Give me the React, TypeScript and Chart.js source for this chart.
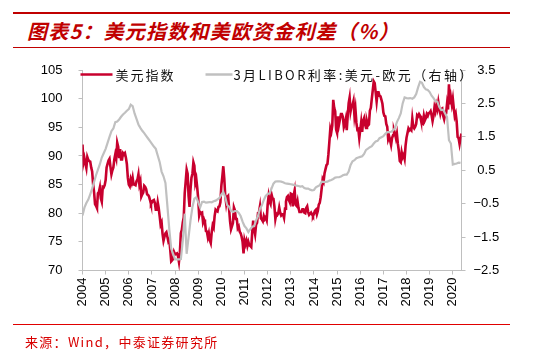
import React, { useEffect, useRef } from "react";
import { Chart, registerables } from "chart.js";

Chart.register(...registerables);

const RED = "#C8002E";
const GRAY = "#C0C0C0";
const AXIS = "#BFBFBF";

const titleText = "图表5：美元指数和美欧资金利差（%）";
const sourceText = "来源：Wind，中泰证券研究所";
const seriesNames = ["美元指数", "3月LIBOR利率:美元-欧元（右轴）"];

const yearLabels = ["2004", "2005", "2006", "2007", "2008", "2009", "2010", "2011", "2012", "2013", "2014", "2015", "2016", "2017", "2018", "2019", "2020"];
const leftTicks = [70, 75, 80, 85, 90, 95, 100, 105];
const rightTicks = [-2.5, -1.5, -0.5, 0.5, 1.5, 2.5, 3.5];

// 美元指数: two readings per month (mid-month, month-end), May 2004 – Sep 2020
const dxy2004 = [92.0, 88.8, 89.6, 88.7, 87.9, 89.8, 89.3, 89.1, 89.0, 88.0, 87.3, 85.1, 83.7, 81.6, 81.3, 80.9];
const dxy2005 = [83.5, 83.7, 84.5, 82.6, 82.0, 84.6, 84.5, 84.9, 85.8, 88.0, 88.6, 89.2, 89.5, 88.1, 86.8, 87.5, 88.0, 89.4, 90.3, 89.6, 92.3, 91.6, 89.6, 91.2];
const dxy2006 = [89.4, 89.4, 90.5, 90.3, 90.5, 89.7, 88.6, 86.2, 85.0, 84.7, 85.9, 85.3, 86.2, 85.0, 85.0, 84.9, 85.6, 85.9, 86.8, 85.0, 85.6, 82.9, 83.3, 83.6];
const dxy2007 = [84.8, 84.6, 84.2, 83.3, 83.2, 82.9, 82.3, 81.6, 81.9, 82.2, 82.3, 81.8, 80.6, 80.6, 81.9, 80.9, 79.5, 78.0, 78.4, 76.4, 75.2, 75.9, 76.5, 76.7];
const dxy2008 = [75.9, 75.1, 75.4, 73.6, 71.6, 71.8, 72.0, 73.2, 72.8, 72.9, 73.0, 72.5, 71.5, 73.2, 76.5, 77.1, 78.4, 79.3, 83.5, 85.5, 87.6, 86.9, 83.0, 81.1];
const dxy2009 = [84.2, 86.2, 86.9, 88.9, 88.3, 85.3, 86.0, 84.4, 82.5, 79.6, 80.2, 80.0, 80.1, 78.4, 78.9, 78.4, 76.9, 76.8, 75.8, 76.5, 75.3, 74.8, 76.7, 77.9];
const dxy2010 = [77.5, 79.5, 80.6, 80.4, 80.3, 81.1, 81.2, 81.9, 84.8, 86.4, 88.2, 86.1, 83.1, 81.7, 82.8, 83.0, 80.8, 78.6, 77.2, 77.2, 78.3, 81.0, 80.5, 79.0];
const dxy2011 = [79.0, 77.4, 77.7, 76.8, 76.5, 75.9, 75.0, 73.0, 75.3, 74.6, 75.2, 74.3, 75.0, 74.4, 74.3, 74.1, 76.7, 78.7, 77.2, 76.3, 78.0, 78.3, 80.0, 80.2];
const dxy2012 = [81.2, 79.1, 78.9, 78.6, 79.5, 79.0, 79.3, 78.8, 81.5, 83.0, 82.0, 81.6, 83.3, 82.6, 82.5, 81.2, 79.0, 79.9, 79.7, 80.0, 81.0, 80.1, 79.6, 79.8];
const dxy2013 = [79.8, 79.2, 80.8, 82.0, 82.8, 83.0, 82.3, 81.9, 83.4, 83.3, 81.2, 83.1, 84.0, 81.5, 81.3, 82.1, 80.9, 80.2, 80.2, 80.2, 80.7, 80.7, 80.1, 80.0];
const dxy2014 = [80.9, 81.2, 80.2, 79.7, 79.9, 80.1, 79.8, 79.5, 79.9, 80.4, 80.6, 79.8, 80.4, 81.5, 81.8, 82.8, 84.3, 85.9, 85.5, 87.0, 87.7, 88.4, 88.6, 90.3];
const dxy2015 = [92.5, 94.8, 94.2, 95.3, 99.8, 98.4, 97.8, 94.6, 94.0, 96.9, 95.5, 95.5, 97.3, 97.3, 96.8, 95.0, 95.5, 96.4, 94.5, 97.0, 99.2, 100.2, 97.8, 98.7];
const dxy2016 = [98.9, 99.6, 97.0, 98.2, 95.8, 94.6, 94.7, 93.1, 94.5, 95.9, 94.2, 96.1, 96.6, 95.5, 94.9, 96.0, 95.3, 95.5, 97.9, 98.4, 100.0, 101.5, 103.0, 102.7];
const dxy2017 = [101.1, 99.5, 101.1, 101.1, 100.5, 100.4, 99.8, 99.1, 97.6, 97.0, 96.9, 95.6, 95.1, 92.9, 93.4, 92.7, 91.9, 93.1, 93.6, 94.5, 93.9, 93.1, 93.9, 92.1];
const dxy2018 = [90.9, 89.1, 88.9, 90.6, 89.8, 90.2, 89.5, 91.8, 93.2, 94.0, 94.8, 94.5, 94.7, 94.5, 96.5, 95.1, 94.8, 95.1, 95.6, 97.1, 96.9, 97.3, 97.0, 96.2];
const dxy2019 = [95.7, 95.6, 97.0, 96.2, 96.6, 97.3, 97.0, 97.5, 97.5, 97.8, 97.1, 96.1, 97.0, 98.5, 97.8, 98.9, 98.2, 99.4, 98.3, 97.4, 98.2, 98.3, 97.0, 96.4];
const dxy2020 = [97.3, 97.4, 99.1, 98.1, 102.5, 99.0, 100.2, 99.0, 100.0, 98.3, 96.9, 97.4, 96.0, 93.3, 93.1, 92.1, 93.1, 93.9];

// 3M LIBOR USD - EUR spread, monthly, May 2004 – Sep 2020
const spr2004 = [-0.85, -0.62, -0.48, -0.38, -0.22, -0.05, 0.15, 0.35];
const spr2005 = [0.52, 0.68, 0.88, 1.01, 1.14, 1.32, 1.5, 1.67, 1.75, 1.94, 1.96, 2.02];
const spr2006 = [2.1, 2.17, 2.22, 2.28, 2.33, 2.46, 2.42, 2.2, 2.04, 1.87, 1.77, 1.68];
const spr2007 = [1.61, 1.53, 1.45, 1.37, 1.29, 1.21, 1.14, 0.94, 0.75, 0.46, 0.32, 0.12];
const spr2008 = [-0.56, -1.27, -1.85, -2.0, -2.17, -2.17, -2.17, -2.16, -1.6, -0.8, -2.0, -1.5];
const spr2009 = [-1.0, -0.6, -0.35, -0.31, -0.46, -0.61, -0.45, -0.44, -0.47, -0.46, -0.45, -0.46];
const spr2010 = [-0.43, -0.41, -0.37, -0.33, -0.23, -0.15, -0.3, -0.54, -0.59, -0.71, -0.75, -0.72];
const spr2011 = [-0.72, -0.78, -0.87, -1.04, -1.17, -1.24, -1.35, -1.26, -1.19, -1.17, -1.0, -0.87];
const spr2012 = [-0.65, -0.55, -0.39, -0.27, -0.21, -0.19, -0.05, 0.1, 0.16, 0.17, 0.17, 0.16];
const spr2013 = [0.14, 0.11, 0.1, 0.09, 0.08, 0.07, 0.05, 0.04, 0.03, 0.01, 0.02, -0.03];
const spr2014 = [-0.05, -0.05, -0.08, -0.1, -0.09, -0.01, 0.02, 0.05, 0.16, 0.15, 0.15, 0.16];
const spr2015 = [0.19, 0.21, 0.24, 0.28, 0.29, 0.29, 0.31, 0.35, 0.37, 0.37, 0.46, 0.66];
const spr2016 = [0.77, 0.8, 0.86, 0.88, 0.9, 0.92, 0.99, 1.11, 1.15, 1.19, 1.22, 1.3];
const spr2017 = [1.36, 1.38, 1.46, 1.49, 1.52, 1.59, 1.64, 1.64, 1.65, 1.69, 1.76, 1.94];
const spr2018 = [2.06, 2.2, 2.5, 2.68, 2.66, 2.65, 2.66, 2.64, 2.68, 2.78, 2.98, 3.15];
const spr2019 = [3.12, 2.99, 2.92, 2.9, 2.84, 2.73, 2.66, 2.57, 2.55, 2.39, 2.3, 2.31];
const spr2020 = [2.2, 2.09, 1.4, 1.3, 0.67, 0.69, 0.7, 0.73, 0.72];

const dxy = [...dxy2004, ...dxy2005, ...dxy2006, ...dxy2007, ...dxy2008, ...dxy2009, ...dxy2010, ...dxy2011, ...dxy2012, ...dxy2013, ...dxy2014, ...dxy2015, ...dxy2016, ...dxy2017, ...dxy2018, ...dxy2019, ...dxy2020];
const spread = [...spr2004, ...spr2005, ...spr2006, ...spr2007, ...spr2008, ...spr2009, ...spr2010, ...spr2011, ...spr2012, ...spr2013, ...spr2014, ...spr2015, ...spr2016, ...spr2017, ...spr2018, ...spr2019, ...spr2020];

const X_MAX = (dxy.length - 1) / 24;

const legendPlugin = {
  id: "insideLegend",
  afterDraw(chart: any) {
    const ctx = chart.ctx;
    const left = chart.chartArea.left;
    const y = 74.5;
    ctx.save();
    ctx.lineWidth = 2.5;
    ctx.strokeStyle = RED;
    ctx.beginPath();
    ctx.moveTo(left - 2, y);
    ctx.lineTo(left + 30, y);
    ctx.stroke();
    ctx.strokeStyle = GRAY;
    ctx.beginPath();
    ctx.moveTo(left + 123, y);
    ctx.lineTo(left + 150, y);
    ctx.stroke();
    ctx.font = '13px "Noto Sans CJK SC", sans-serif';
    ctx.fillStyle = "#111";
    ctx.textBaseline = "middle";
    ctx.textAlign = "left";
    try { (ctx as any).letterSpacing = "2px"; } catch (e) {}
    ctx.fillText(seriesNames[0], left + 33, y + 0.5);
    try { (ctx as any).letterSpacing = "2.4px"; } catch (e) {}
    ctx.fillText(seriesNames[1], left + 151, y + 0.5);
    try { (ctx as any).letterSpacing = "0px"; } catch (e) {}
    ctx.restore();
  },
};

const tickFont = { family: '"Liberation Sans", Arial, sans-serif', size: 13 };

export default function App() {
  const ref = useRef<HTMLCanvasElement | null>(null);
  useEffect(() => {
    if (!ref.current) return;
    const chart = new Chart(ref.current, {
      type: "line",
      data: {
        datasets: [
          {
            label: seriesNames[1],
            data: spread.map((v, j) => ({ x: j / 12, y: v })),
            yAxisID: "y1",
            borderColor: GRAY,
            borderWidth: 2.2,
            pointRadius: 0,
            tension: 0,
            order: 0,
          },
          {
            label: seriesNames[0],
            data: dxy.map((v, i) => ({ x: i / 24, y: v })),
            yAxisID: "y",
            borderColor: RED,
            borderWidth: 2.6,
            pointRadius: 0,
            tension: 0,
            order: 1,
          },
        ],
      },
      options: {
        responsive: false,
        animation: false,
        layout: { padding: { top: 70, left: 0, right: 0, bottom: 0 } },
        plugins: { legend: { display: false }, tooltip: { enabled: false } },
        scales: {
          x: {
            type: "linear",
            min: 0,
            max: X_MAX,
            afterBuildTicks: (s: any) => {
              s.ticks = yearLabels.map((_, i) => ({ value: i }));
            },
            afterFit: (s: any) => {
              s.height = 92.5;
            },
            ticks: {
              autoSkip: false,
              maxRotation: 90,
              minRotation: 90,
              padding: 3,
              color: "#000",
              font: tickFont,
              callback: (v: any) => yearLabels[Math.round(v)] ?? "",
            },
            grid: { drawOnChartArea: false, drawTicks: true, tickLength: 4, color: AXIS },
            border: { display: true, color: AXIS, width: 1 },
          },
          y: {
            position: "left",
            min: 70,
            max: 105,
            afterBuildTicks: (s: any) => {
              s.ticks = leftTicks.map((v) => ({ value: v }));
            },
            afterFit: (s: any) => {
              s.width = 82.5;
            },
            ticks: { color: "#000", font: tickFont, padding: 16 },
            grid: { drawOnChartArea: false, drawTicks: true, tickLength: 4, color: AXIS },
            border: { display: true, color: AXIS, width: 1 },
          },
          y1: {
            position: "right",
            min: -2.5,
            max: 3.5,
            afterBuildTicks: (s: any) => {
              s.ticks = rightTicks.map((v) => ({ value: v }));
            },
            afterFit: (s: any) => {
              s.width = 88.5;
            },
            ticks: {
              color: "#000",
              font: tickFont,
              padding: 8,
              crossAlign: "center",
              callback: (v: any) => (v < 0 ? "\u2212" + Math.abs(v).toFixed(1) : Number(v).toFixed(1)),
            },
            grid: { drawOnChartArea: false, drawTicks: true, tickLength: 4, color: AXIS },
            border: { display: true, color: AXIS, width: 1 },
          },
        },
      },
      plugins: [legendPlugin],
    } as any);
    return () => chart.destroy();
  }, []);

  return (
    <div style={{ position: "absolute", left: 0, top: 0, width: 550, height: 363, background: "#fff", overflow: "hidden" }}>
      <div style={{ position: "absolute", left: 13, top: 12, width: 497, height: 2, background: "#C00000" }} />
      <div
        style={{
          position: "absolute",
          left: 27,
          top: 17,
          fontFamily: '"Noto Sans CJK SC", sans-serif',
          fontStyle: "italic",
          fontWeight: 700,
          fontSize: 20,
          lineHeight: "28px",
          color: "#C00000",
          whiteSpace: "nowrap",
          letterSpacing: "1.2px",
        }}
      >
        {titleText}
      </div>
      <div style={{ position: "absolute", left: 13, top: 47, width: 497, height: 1, background: "#C00000" }} />
      <canvas ref={ref} width={550} height={363} style={{ position: "absolute", left: 0, top: 0, width: 550, height: 363 }} />
      <div style={{ position: "absolute", left: 13, top: 323.5, width: 497, height: 1, background: "#E00000" }} />
      <div
        style={{
          position: "absolute",
          left: 25,
          top: 333,
          fontFamily: '"Noto Sans CJK SC", sans-serif',
          fontSize: 13,
          lineHeight: "18px",
          color: "#D80000",
          whiteSpace: "nowrap",
          letterSpacing: "1.3px",
        }}
      >
        {sourceText}
      </div>
    </div>
  );
}
